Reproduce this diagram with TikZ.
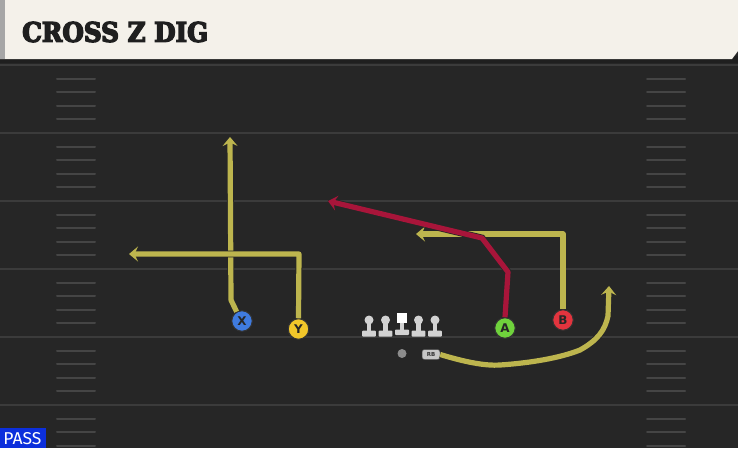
\documentclass[tikz,border=0pt]{standalone}
\usepackage{fontspec}
\setmainfont{DejaVu Sans}
\newfontfamily\titlefont[FakeBold=5]{DejaVu Serif Condensed Bold}
\newfontfamily\passfont{Fira Sans}
\usetikzlibrary{arrows.meta}
\definecolor{fieldbg}{HTML}{262626}
\definecolor{majorln}{HTML}{3B3B3B}
\definecolor{hashln}{HTML}{454545}
\definecolor{cream}{HTML}{F4F1EA}
\definecolor{routey}{HTML}{BDB54E}
\definecolor{router}{HTML}{A8153A}
\definecolor{xblue}{HTML}{3F7BE0}
\definecolor{yyel}{HTML}{F2C72A}
\definecolor{agreen}{HTML}{6FD23C}
\definecolor{bred}{HTML}{E2343E}
\definecolor{linegray}{HTML}{D2D2D2}
\definecolor{passblue}{HTML}{0C2FDC}
\tikzset{
  route/.style={line width=5.2pt, line join=round, draw=#1,
    preaction={draw=black!85, line width=6.8pt, -{}},
    -{Stealth[length=9pt,width=15pt,inset=3.5pt]}},
  player/.style={circle, draw=black!80, line width=1pt, fill=#1, minimum size=20.5pt, inner sep=0pt,
    font=\bfseries\fontsize{12}{12}\selectfont, text=black!85},
  lman/.style={fill=linegray, draw=none},
}
\begin{document}
\begin{tikzpicture}[x=1pt,y=-1pt]
\useasboundingbox (0,0) rectangle (738,448);
\fill[fieldbg] (0,0) rectangle (738,448);
\fill[black!88] (0,56) rectangle (738,63);
% major lines
\foreach \yy in {65,133,201,269,337,405}
  \draw[majorln, line width=2pt] (0,\yy) -- (738,\yy);
% hash marks
\foreach \b in {65,133,201,269,337,405}
  \foreach \k in {1,2,3,4}{
    \pgfmathsetmacro{\hy}{\b+13.6*\k}
    \ifdim\hy pt<448pt
      \draw[hashln, line width=2pt, line cap=round] (57,\hy) -- (95,\hy);
      \draw[hashln, line width=2pt, line cap=round] (647,\hy) -- (685,\hy);
    \fi
  }
% header
\fill[cream] (0,0) -- (738,0) -- (738,51) -- (732,59) -- (0,59) -- cycle;
\fill[black!35] (0,0) rectangle (5,59);
\node[anchor=west, inner sep=0pt, text=black!88] (title) at (22,32)
  {\resizebox{186pt}{20pt}{\titlefont CROSS Z DIG}};
% players
\node[player=xblue] (X) at (242,321) {X};
\node[player=yyel] (Y) at (298.5,329) {Y};
\node[player=agreen] (A) at (505,328) {A};
\node[player=bred] (B) at (563,320) {B};
% routes
\coordinate (xt) at (230,137);
\coordinate (yt) at (129,254);
\coordinate (rt) at (328,201);
\coordinate (bt) at (416,234);
\coordinate (rbt) at (609,286);
\draw[route=routey] (X.120) -- (231,300) -- (xt);
\draw[route=routey] (Y.north) -- (299,254) -- (yt);
\draw[route=routey] (B.north) -- (563,234) -- (bt);
\draw[route=router] (A.north) -- (508,272) -- (482,238) -- (rt);
% linemen
\foreach \lx/\nm in {369/l1,385.5/l2,418.5/l4,435/l5}{
  \fill[lman] (\lx-2.4,320) rectangle (\lx+2.4,332);
  \fill[lman] (\lx,320) circle (4.5);
  \fill[lman, rounded corners=0.8pt] (\lx-6.8,330.5) rectangle (\lx+6.8,336.5);
  \coordinate (\nm) at (\lx,328);
}
\fill[lman] (399.6,320) rectangle (404.4,332);
\fill[white] (397,312.5) rectangle (407,323);
\fill[lman, rounded corners=0.8pt] (395,329.5) rectangle (409,335);
\coordinate (l3) at (402,325);
% QB and RB
\node[circle, fill=black!45, minimum size=9pt, inner sep=0pt] (QB) at (402,353.5) {};
\node[rounded corners=2.5pt, fill=black!22, draw=black!70, line width=0.5pt, minimum width=18pt, minimum height=10pt, inner sep=0pt,
  font=\bfseries\fontsize{5.5}{5.5}\selectfont, text=black!80] (RB) at (431,354.5) {RB};
\draw[route=routey] (RB.east) .. controls (465,362) and (485,366) .. (500,365)
  .. controls (530,363) and (560,358) .. (580,350)
  .. controls (598,340) and (605,330) .. (608,316) -- (rbt);
% PASS label
\fill[passblue] (0,428) rectangle (46,448);
\node[inner sep=0pt, text=white] (pass) at (22.5,439)
  {\resizebox{38pt}{12pt}{\passfont PASS}};
\end{tikzpicture}
\end{document}
